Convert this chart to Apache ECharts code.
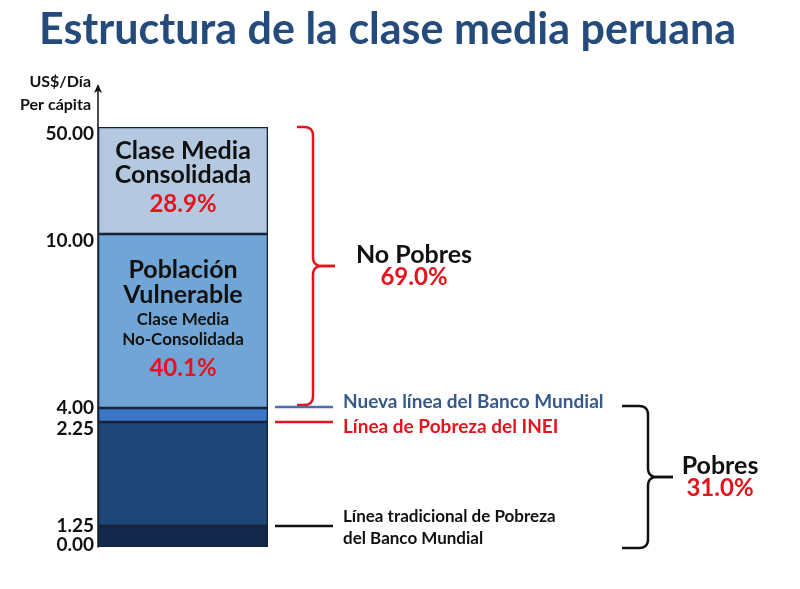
<!DOCTYPE html>
<html><head><meta charset="utf-8">
<script src="https://cdn.jsdelivr.net/npm/echarts@6/dist/echarts.min.js"></script>
<style>html,body{margin:0;padding:0;background:#fff}#c{width:800px;height:589px}</style>
</head><body><div id="c"></div>
<script>
// ---- data ----
const titleText = 'Estructura de la clase media peruana';
const axisName = 'US$/Día\nPer cápita';
const category = ['Perú'];
const thresholds = [0, 1.25, 2.25, 4.00, 10.00, 50.00];          // US$/día per cápita
const tickLabels = ['0.00', '1.25', '2.25', '4.00', '10.00', '50.00'];
const bandSpans = [21, 104, 14, 174, 107];                        // visual band heights (non-linear scale of the original)
const bandNames = ['Pobreza extrema', 'Pobreza', 'Entre líneas', 'Población Vulnerable', 'Clase Media Consolidada'];
const bandShares = [null, null, null, 40.1, 28.9];                // %
const groupNames = ['No Pobres', 'Pobres'];
const groupShares = [69.0, 31.0];                                 // %
const lineNames = ['Nueva línea del Banco Mundial', 'Línea de Pobreza del INEI', 'Línea tradicional de Pobreza\ndel Banco Mundial'];
const lineLevels = [4.00, 2.25, 1.25];                            // US$/día

// ---- derived ----
const cum = [0];
bandSpans.forEach(s => cum.push(cum[cum.length - 1] + s));
const posOf = t => cum[thresholds.indexOf(t)];
const total = cum[cum.length - 1];

const FONT = 'Lato';
const bandColors = ['#14284c', '#1e4676', '#3b77c8', '#70a5d6', '#b4c9e0'];
const RED = '#e3141e';

const labelShift = { '0.00': 'u', '1.25': 'a', '2.25': 'd', '4.00': 'a', '10.00': 'd', '50.00': 'd' };
const labelRich = {
  a: { fontFamily: FONT, fontWeight: 'bold', fontSize: 19, color: '#111', lineHeight: 14 },
  d: { fontFamily: FONT, fontWeight: 'bold', fontSize: 19, color: '#111', lineHeight: 14, padding: [13, 0, 0, 0] },
  u: { fontFamily: FONT, fontWeight: 'bold', fontSize: 19, color: '#111', lineHeight: 14, padding: [0, 0, 5, 0] }
};
const fmt = v => { const t = tickLabels[cum.indexOf(v)]; return '{' + labelShift[t] + '|' + t + '}'; };

function bandLabel(i) {
  if (i === 4) {
    return {
      show: true, position: 'inside',
      formatter: '{t|Clase Media}\n{t|Consolidada}\n{p|' + bandShares[i].toFixed(1) + '%}',
      rich: {
        t: { fontFamily: FONT, fontWeight: 'bold', fontSize: 25, color: '#111', lineHeight: 24 },
        p: { fontFamily: FONT, fontWeight: 'bold', fontSize: 24, color: RED, lineHeight: 36 }
      }
    };
  }
  if (i === 3) {
    return {
      show: true, position: 'inside',
      formatter: '{t|Población}\n{t|Vulnerable}\n{s1|Clase Media}\n{s|No-Consolidada}\n{p|' + bandShares[i].toFixed(1) + '%}',
      rich: {
        t: { fontFamily: FONT, fontWeight: 'bold', fontSize: 25, color: '#111', lineHeight: 25 },
        s1: { fontFamily: FONT, fontWeight: 'bold', fontSize: 17, color: '#111', lineHeight: 22, padding: [4, 0, 0, 0] },
        s: { fontFamily: FONT, fontWeight: 'bold', fontSize: 17, color: '#111', lineHeight: 22 },
        p: { fontFamily: FONT, fontWeight: 'bold', fontSize: 24, color: RED, lineHeight: 34 }
      }
    };
  }
  return { show: false };
}

const chart = echarts.init(document.getElementById('c'));
chart.setOption({
  backgroundColor: '#fff',
  animation: false,
  title: {
    text: titleText, left: 34, top: 4,
    textStyle: { fontFamily: FONT, fontWeight: 'bold', fontSize: 43, color: '#244b7c' }
  },
  grid: { left: 98, right: 532, top: 87, bottom: 42 },
  xAxis: { type: 'category', data: category, show: false },
  yAxis: [{
    type: 'value', min: 0, max: total + 40,
    name: axisName, nameLocation: 'end', nameGap: -6, nameMoveOverlap: false,
    nameTextStyle: { fontFamily: FONT, fontWeight: 'bold', fontSize: 16, color: '#111', align: 'right', verticalAlign: 'middle', lineHeight: 23, padding: [0, 7, 0, 0] },
    axisLine: { show: true, lineStyle: { color: '#111', width: 1.5 }, symbol: ['none', 'arrow'], symbolSize: [6, 9], symbolOffset: [0, 3] },
    axisTick: { show: false },
    splitLine: { show: false },
    axisLabel: { customValues: cum.slice(1), margin: 4, hideOverlap: false, formatter: fmt, rich: labelRich }
  }, {
    // companion axis on the same scale carrying only the origin label
    type: 'value', min: 0, max: total + 40, position: 'left', offset: 0,
    axisLine: { show: false }, axisTick: { show: false }, splitLine: { show: false },
    axisLabel: { customValues: cum.slice(0, 1), margin: 4, formatter: fmt, rich: labelRich }
  }],
  series: bandSpans.map((s, i) => ({
    type: 'bar', name: bandNames[i], stack: 'clase',
    barWidth: '100%', barCategoryGap: '0%',
    data: [s],
    itemStyle: { color: bandColors[i], borderColor: '#16233a', borderWidth: 1.3 },
    label: bandLabel(i)
  }))
});

// ---- annotations positioned from the axis scale ----
const yPix = t => chart.convertToPixel({ yAxisIndex: 0 }, posOf(t));
function quad(p0, p1, p2, n) {
  const pts = [];
  for (let k = 0; k <= n; k++) {
    const t = k / n, a = (1 - t) * (1 - t), b = 2 * (1 - t) * t, c = t * t;
    pts.push([a * p0[0] + b * p1[0] + c * p2[0], a * p0[1] + b * p1[1] + c * p2[1]]);
  }
  return pts;
}
// returns two polylines (upper and lower half of a "}" brace)
function brace(x0, xv, xt, y1, y2, r) {
  const ym = (y1 + y2) / 2;
  const upper = [[x0, y1]]
    .concat(quad([xv - r, y1], [xv, y1], [xv, y1 + r], 8))
    .concat(quad([xv, ym - r], [xv, ym], [xv + r, ym], 8))
    .concat([[xt, ym]]);
  const lower = [[xt, ym]]
    .concat(quad([xv + r, ym], [xv, ym], [xv, ym + r], 8))
    .concat(quad([xv, y2 - r], [xv, y2], [xv - r, y2], 8))
    .concat([[x0, y2]]);
  return [upper, lower];
}
const yTop = yPix(thresholds[5]);
const y4 = yPix(lineLevels[0]);
const y225 = yPix(lineLevels[1]);
const y125 = yPix(lineLevels[2]);
const y0 = yPix(thresholds[0]);
const redTop = yTop, redBot = y4 - 3;
const blkTop = y4 - 2, blkBot = y0 + 1;

const lineColors = ['#4a6fa8', RED, '#111'];
const textColors = ['#37598a', RED, '#111'];
const lineY = [y4 - 1, y225, y125];
const textY = [y4 - 6, y225 + 5, y125 + 2];

const graphics = [];
brace(297, 313, 335, redTop, redBot, 9).forEach(pts => graphics.push({
  type: 'polyline', shape: { points: pts }, style: { fill: 'none', stroke: RED, lineWidth: 2.5, lineJoin: 'round' }
}));
brace(622, 648, 673, blkTop, blkBot, 9).forEach(pts => graphics.push({
  type: 'polyline', shape: { points: pts }, style: { fill: 'none', stroke: '#111', lineWidth: 2.5, lineJoin: 'round' }
}));
graphics.push({
  type: 'text', x: 414, y: (redTop + redBot) / 2,
  style: {
    text: '{n|' + groupNames[0] + '}\n{p|' + groupShares[0].toFixed(1) + '%}', align: 'center', verticalAlign: 'middle',
    rich: {
      n: { fontFamily: FONT, fontWeight: 'bold', fontSize: 25, fill: '#111', lineHeight: 23 },
      p: { fontFamily: FONT, fontWeight: 'bold', fontSize: 24, fill: RED, lineHeight: 23 }
    }
  }
});
graphics.push({
  type: 'text', x: 720, y: (blkTop + blkBot) / 2,
  style: {
    text: '{n|' + groupNames[1] + '}\n{p|' + groupShares[1].toFixed(1) + '%}', align: 'center', verticalAlign: 'middle',
    rich: {
      n: { fontFamily: FONT, fontWeight: 'bold', fontSize: 25, fill: '#111', lineHeight: 22 },
      p: { fontFamily: FONT, fontWeight: 'bold', fontSize: 24, fill: RED, lineHeight: 22 }
    }
  }
});
lineNames.forEach((n, i) => {
  graphics.push({ type: 'line', shape: { x1: 275, y1: lineY[i], x2: 333, y2: lineY[i] }, style: { stroke: lineColors[i], lineWidth: 2.5 } });
  graphics.push({
    type: 'text', x: 343, y: textY[i],
    style: {
      text: n, align: 'left', verticalAlign: 'middle', fill: textColors[i],
      font: 'bold ' + (i === 2 ? 17 : 19) + 'px ' + FONT, lineHeight: 22
    }
  });
});
chart.setOption({ graphic: graphics });
</script>
</body></html>
